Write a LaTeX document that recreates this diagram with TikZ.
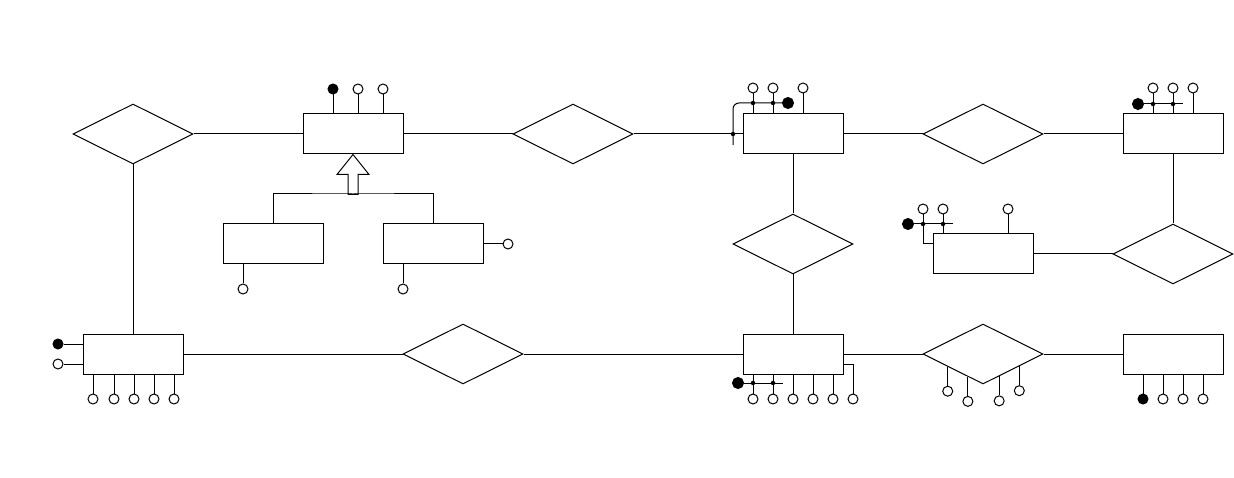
\documentclass[tikz,border=0pt]{standalone}
\usetikzlibrary{shapes.geometric,calc}
\begin{document}
\begin{tikzpicture}[x=1pt,y=-1pt,line width=1pt,
  entity/.style={draw,minimum width=100pt,minimum height=40pt,inner sep=0pt},
  relation/.style={draw,diamond,minimum width=120pt,minimum height=60pt,inner sep=0pt},
  attr/.style={draw,circle,fill=white,minimum size=10pt,inner sep=0pt},
  keyattr/.style={attr,fill=black},
  bigkey/.style={draw,circle,fill=black,minimum size=11pt,inner sep=0pt},
  joint/.style={circle,fill=black,minimum size=4.5pt,inner sep=0pt}]
  \useasboundingbox (0,0) rectangle (1234,478);
  \node[relation] (R1) at (133,134) {};
  \node[relation] (R2) at (573,134) {};
  \node[relation] (R3) at (983,134) {};
  \node[relation] (R4) at (793,244) {};
  \node[relation] (R5) at (1173,254) {};
  \node[relation] (R6) at (463,354) {};
  \node[relation] (R7) at (983,354) {};
  \node[entity] (E1) at (353,134) {};
  \node[entity] (E2) at (793,134) {};
  \node[entity] (E3) at (1173,134) {};
  \node[entity] (E4) at (273,244) {};
  \node[entity] (E5) at (433,244) {};
  \node[entity] (E6) at (983,254) {};
  \node[entity] (E7) at (133,354) {};
  \node[entity] (E8) at (793,354) {};
  \node[entity] (E9) at (1173,354) {};
  \draw (R1.east) -- (E1.west);
  \draw (E1.east) -- (R2.west);
  \draw (R2.east) -- (E2.west);
  \draw (E2.east) -- (R3.west);
  \draw (R3.east) -- (E3.west);
  \draw (R1.south) -- (E7.north);
  \draw (E2.south) -- (R4.north);
  \draw (R4.south) -- (E8.north);
  \draw (E3.south) -- (R5.north);
  \draw (R5.west) -- (E6.east);
  \draw (E7.east) -- (R6.west);
  \draw (R6.east) -- (E8.west);
  \draw (E8.east) -- (R7.west);
  \draw (R7.east) -- (E9.west);
  \draw[fill=white] (E1.south) -- ++(16,20) -- ++(-11,0) -- ++(0,20) -- ++(-10,0) -- ++(0,-20) -- ++(-11,0) -- cycle;
  \coordinate (isa) at (353,194);
  \draw (E4.north) |- (isa) -| (E5.north);
  \node[keyattr] (e1k) at (333,89) {};
  \node[attr] (e1a1) at (358,89) {};
  \node[attr] (e1a2) at (383,89) {};
  \draw (e1k.south) -- (e1k |- E1.north);
  \draw (e1a1.south) -- (e1a1 |- E1.north);
  \draw (e1a2.south) -- (e1a2 |- E1.north);
  \node[attr] (e4a1) at (243,289) {};
  \draw (e4a1.north) -- (e4a1 |- E4.south);
  \node[attr] (e5a1) at (403,289) {};
  \node[attr] (e5a2) at (508,244) {};
  \draw (e5a1.north) -- (e5a1 |- E5.south);
  \draw (e5a2.west) -- (E5.east);
  \node[attr] (e2a1) at (753,88) {};
  \node[attr] (e2a2) at (773,88) {};
  \node[attr] (e2a3) at (803,88) {};
  \draw (e2a1.south) -- (e2a1 |- E2.north);
  \draw (e2a2.south) -- (e2a2 |- E2.north);
  \draw (e2a3.south) -- (e2a3 |- E2.north);
  \node[bigkey] (e2k) at (788,103) {};
  \coordinate (e2c) at (733,145);
  \draw[rounded corners=6pt] (e2c) -- (e2c |- e2k) -- (e2k);
  \node[joint] (e2j0) at (733,134) {};
  \node[joint] (e2j1) at (753,103) {};
  \node[joint] (e2j2) at (773,103) {};
  \node[attr] (e3a1) at (1153,88) {};
  \node[attr] (e3a2) at (1173,88) {};
  \node[attr] (e3a3) at (1193,88) {};
  \draw (e3a1.south) -- (e3a1 |- E3.north);
  \draw (e3a2.south) -- (e3a2 |- E3.north);
  \draw (e3a3.south) -- (e3a3 |- E3.north);
  \node[bigkey] (e3k) at (1138,104) {};
  \coordinate (e3c) at (1183,104);
  \draw (e3k) -- (e3c);
  \node[joint] (e3j1) at (1153,104) {};
  \node[joint] (e3j2) at (1173,104) {};
  \node[attr] (e6a1) at (923,209) {};
  \node[attr] (e6a2) at (943,209) {};
  \node[attr] (e6a3) at (1008,209) {};
  \draw (e6a1.south) |- ($(E6.west)+(0,-10)$);
  \draw (e6a2.south) -- (e6a2 |- E6.north);
  \draw (e6a3.south) -- (e6a3 |- E6.north);
  \node[bigkey] (e6k) at (908,224) {};
  \coordinate (e6c) at (953,224);
  \draw (e6k) -- (e6c);
  \node[joint] (e6j1) at (923,224) {};
  \node[joint] (e6j2) at (943,224) {};
  \node[keyattr] (e7k) at (58,344) {};
  \node[attr] (e7a0) at (58,364) {};
  \draw (e7k.east) -- (e7k -| E7.west);
  \draw (e7a0.east) -- (e7a0 -| E7.west);
  \node[attr] (e7a1) at (93,399) {};
  \node[attr] (e7a2) at (114,399) {};
  \node[attr] (e7a3) at (134,399) {};
  \node[attr] (e7a4) at (154,399) {};
  \node[attr] (e7a5) at (174,399) {};
  \draw (e7a1.north) -- (e7a1 |- E7.south);
  \draw (e7a2.north) -- (e7a2 |- E7.south);
  \draw (e7a3.north) -- (e7a3 |- E7.south);
  \draw (e7a4.north) -- (e7a4 |- E7.south);
  \draw (e7a5.north) -- (e7a5 |- E7.south);
  \node[attr] (e8a1) at (753,399) {};
  \node[attr] (e8a2) at (773,399) {};
  \node[attr] (e8a3) at (793,399) {};
  \node[attr] (e8a4) at (813,399) {};
  \node[attr] (e8a5) at (833,399) {};
  \node[attr] (e8a6) at (853,399) {};
  \draw (e8a1.north) -- (e8a1 |- E8.south);
  \draw (e8a2.north) -- (e8a2 |- E8.south);
  \draw (e8a3.north) -- (e8a3 |- E8.south);
  \draw (e8a4.north) -- (e8a4 |- E8.south);
  \draw (e8a5.north) -- (e8a5 |- E8.south);
  \draw ($(E8.east)+(0,10)$) -| (e8a6.north);
  \node[bigkey] (e8k) at (738,383) {};
  \coordinate (e8c) at (783,383);
  \draw (e8k) -- (e8c);
  \node[joint] (e8j1) at (753,383) {};
  \node[joint] (e8j2) at (773,383) {};
  \coordinate (r7p1) at ($(R7.west)!0.417!(R7.south)$);
  \coordinate (r7p2) at ($(R7.west)!0.75!(R7.south)$);
  \coordinate (r7p3) at ($(R7.east)!0.733!(R7.south)$);
  \coordinate (r7p4) at ($(R7.east)!0.4!(R7.south)$);
  \node[attr] (r7a1) at ($(r7p1)+(0,24.5)$) {};
  \node[attr] (r7a2) at ($(r7p2)+(0,24.5)$) {};
  \node[attr] (r7a3) at ($(r7p3)+(0,24.5)$) {};
  \node[attr] (r7a4) at ($(r7p4)+(0,24.5)$) {};
  \draw (r7p1) -- (r7a1.north);
  \draw (r7p2) -- (r7a2.north);
  \draw (r7p3) -- (r7a3.north);
  \draw (r7p4) -- (r7a4.north);
  \node[keyattr] (e9k) at (1143,399) {};
  \node[attr] (e9a1) at (1163,399) {};
  \node[attr] (e9a2) at (1183,399) {};
  \node[attr] (e9a3) at (1203,399) {};
  \draw (e9k.north) -- (e9k |- E9.south);
  \draw (e9a1.north) -- (e9a1 |- E9.south);
  \draw (e9a2.north) -- (e9a2 |- E9.south);
  \draw (e9a3.north) -- (e9a3 |- E9.south);
\end{tikzpicture}
\end{document}
